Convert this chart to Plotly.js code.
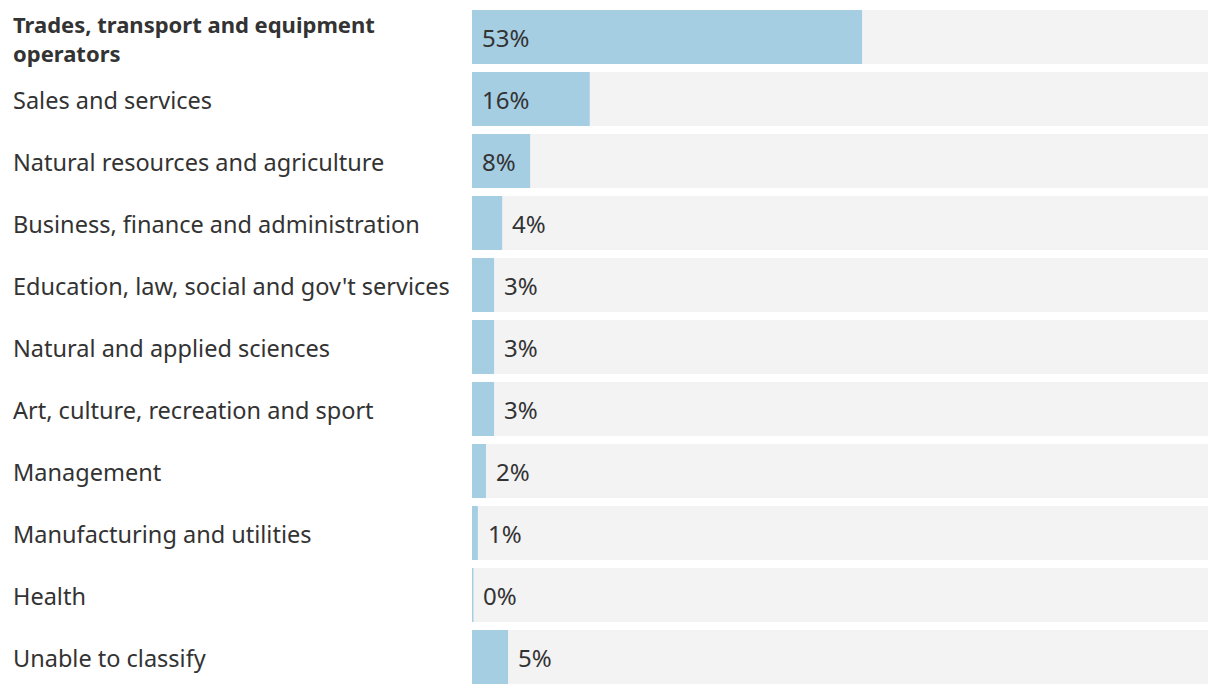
<!DOCTYPE html>
<html>
<head>
<meta charset="utf-8">
<script src="https://cdn.plot.ly/plotly-3.0.1.min.js"></script>
<style>
html,body{margin:0;padding:0;background:#fff;}
#chart{width:1220px;height:694px;}
</style>
</head>
<body>
<div id="chart"></div>
<script>
var categories = [
  "Trades, transport and equipment operators",
  "Sales and services",
  "Natural resources and agriculture",
  "Business, finance and administration",
  "Education, law, social and gov't services",
  "Natural and applied sciences",
  "Art, culture, recreation and sport",
  "Management",
  "Manufacturing and utilities",
  "Health",
  "Unable to classify"
];
var displayLabels = [
  "<b>Trades, transport and equipment<br>operators</b>",
  "Sales and services",
  "Natural resources and agriculture",
  "Business, finance and administration",
  "Education, law, social and gov't services",
  "Natural and applied sciences",
  "Art, culture, recreation and sport",
  "Management",
  "Manufacturing and utilities",
  "Health",
  "Unable to classify"
];
var values = [53, 16, 7.9, 4.1, 3, 3, 3, 1.9, 0.8, 0.2, 4.9];
var valueLabels = ["53%", "16%", "8%", "4%", "3%", "3%", "3%", "2%", "1%", "0%", "5%"];
var maxValue = 100;

var FONT = "Noto Sans, Open Sans, sans-serif";
var TXT = "#333333";

var bg = {
  type: "bar", orientation: "h",
  y: categories, x: categories.map(function(){return maxValue;}),
  marker: {color: "#f3f3f3"}, hoverinfo: "skip", showlegend: false
};
var fg = {
  type: "bar", orientation: "h",
  y: categories, x: values,
  marker: {color: "#a6cee3"}, hoverinfo: "skip", showlegend: false
};

var annotations = [];
categories.forEach(function(c, i){
  var multi = displayLabels[i].indexOf("<br>") >= 0;
  annotations.push({
    xref: "paper", yref: "y", x: -472/736, y: c,
    xanchor: "left", yanchor: "middle", align: "left", xshift: 11, yshift: -1,
    text: displayLabels[i], showarrow: false,
    font: {family: FONT, size: multi ? 22 : 23.5, color: TXT}
  });
  var inside = values[i] >= 7;
  annotations.push({
    xref: "x", yref: "y", x: inside ? 0 : values[i], y: c,
    xanchor: "left", yanchor: "middle", xshift: 8,
    text: valueLabels[i], showarrow: false,
    font: {family: FONT, size: 24, color: TXT}
  });
});

var layout = {
  width: 1220, height: 694,
  margin: {l: 472, r: 12, t: 6, b: 6},
  paper_bgcolor: "#ffffff", plot_bgcolor: "#ffffff",
  barmode: "overlay", bargap: 8/62,
  xaxis: {range: [0, maxValue], autorange: false, visible: false, fixedrange: true},
  yaxis: {range: [categories.length - 0.5, -0.5], autorange: false, showticklabels: false, showgrid: false, zeroline: false, fixedrange: true},
  annotations: annotations,
  showlegend: false
};

Plotly.newPlot("chart", [bg, fg], layout, {staticPlot: true, displayModeBar: false});
</script>
</body>
</html>
